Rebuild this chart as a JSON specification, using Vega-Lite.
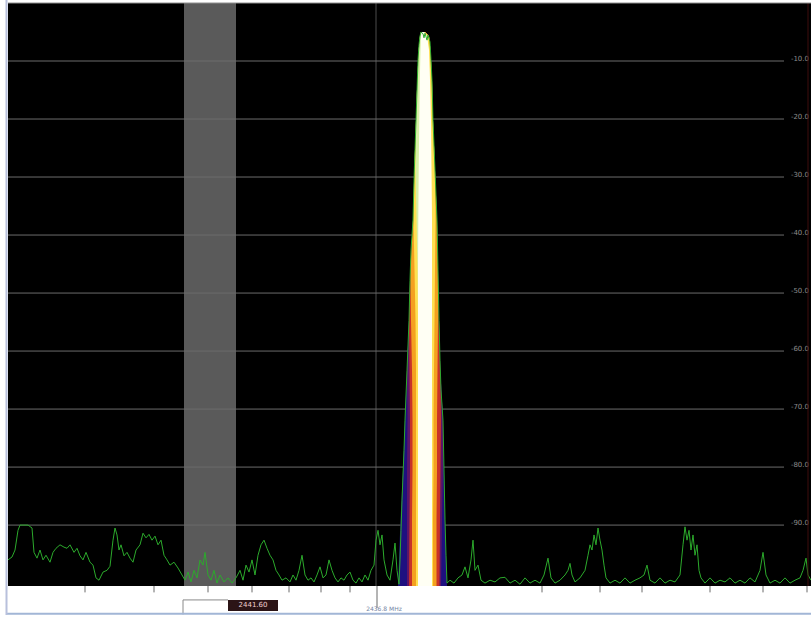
{
  "$schema": "https://vega.github.io/schema/vega-lite/v6.json",
  "width": 803,
  "height": 583,
  "autosize": {"type": "none"},
  "padding": {"left": 8, "top": 3, "right": 0, "bottom": 31},
  "background": "#ffffff",
  "config": {"view": {"fill": "#000000", "stroke": null}},
  "datasets": {
    "span": [{"f0": 2417.6, "f1": 2422.8, "top": 0, "bottom": -100.5}],
    "grid": [{"db": -10, "label": "-10.0"}, {"db": -20, "label": "-20.0"}, {"db": -30, "label": "-30.0"}, {"db": -40, "label": "-40.0"}, {"db": -50, "label": "-50.0"}, {"db": -60, "label": "-60.0"}, {"db": -70, "label": "-70.0"}, {"db": -80, "label": "-80.0"}, {"db": -90, "label": "-90.0"}],
    "ticks": [{"f": 2407.7}, {"f": 2414.6}, {"f": 2420.0}, {"f": 2424.4}, {"f": 2428.1}, {"f": 2431.3}, {"f": 2434.2}, {"f": 2453.4}, {"f": 2459.2}, {"f": 2463.4}, {"f": 2470.2}, {"f": 2475.5}, {"f": 2479.9}],
    "glow": [
      {"band": "navy", "db": -100.5, "lo": 2439.0, "hi": 2443.9}, {"band": "navy", "db": -89.1, "lo": 2439.25, "hi": 2443.7}, {"band": "navy", "db": -80.5, "lo": 2439.5, "hi": 2443.6}, {"band": "navy", "db": -71.9, "lo": 2439.7, "hi": 2443.5}, {"band": "navy", "db": -63.3, "lo": 2439.9, "hi": 2443.23}, {"band": "navy", "db": -54.7, "lo": 2440.1, "hi": 2443.1}, {"band": "navy", "db": -46.0, "lo": 2440.23, "hi": 2443.0}, {"band": "navy", "db": -37.4, "lo": 2440.5, "hi": 2442.9}, {"band": "navy", "db": -28.8, "lo": 2440.63, "hi": 2442.7}, {"band": "navy", "db": -20.2, "lo": 2440.8, "hi": 2442.5}, {"band": "navy", "db": -13.3, "lo": 2440.93, "hi": 2442.4}, {"band": "navy", "db": -8.1, "lo": 2441.07, "hi": 2442.25}, {"band": "navy", "db": -5.7, "lo": 2441.2, "hi": 2442.1}, {"band": "navy", "db": -5.0, "lo": 2441.3, "hi": 2441.7},
      {"band": "purple", "db": -100.5, "lo": 2439.9, "hi": 2443.3}, {"band": "purple", "db": -89.1, "lo": 2439.9, "hi": 2443.4}, {"band": "purple", "db": -80.5, "lo": 2439.9, "hi": 2443.5}, {"band": "purple", "db": -71.9, "lo": 2439.95, "hi": 2443.5}, {"band": "purple", "db": -63.3, "lo": 2439.9, "hi": 2443.23}, {"band": "purple", "db": -54.7, "lo": 2440.1, "hi": 2443.1}, {"band": "purple", "db": -46.0, "lo": 2440.23, "hi": 2443.0}, {"band": "purple", "db": -37.4, "lo": 2440.5, "hi": 2442.9}, {"band": "purple", "db": -28.8, "lo": 2440.63, "hi": 2442.7}, {"band": "purple", "db": -20.2, "lo": 2440.8, "hi": 2442.5}, {"band": "purple", "db": -13.3, "lo": 2440.93, "hi": 2442.4}, {"band": "purple", "db": -8.1, "lo": 2441.07, "hi": 2442.25}, {"band": "purple", "db": -5.7, "lo": 2441.2, "hi": 2442.1}, {"band": "purple", "db": -5.0, "lo": 2441.3, "hi": 2441.7},
      {"band": "red", "db": -100.5, "lo": 2440.1, "hi": 2443.15}, {"band": "red", "db": -89.1, "lo": 2440.15, "hi": 2443.2}, {"band": "red", "db": -80.5, "lo": 2440.2, "hi": 2443.25}, {"band": "red", "db": -71.9, "lo": 2440.2, "hi": 2443.3}, {"band": "red", "db": -63.3, "lo": 2440.15, "hi": 2443.23}, {"band": "red", "db": -54.7, "lo": 2440.1, "hi": 2443.1}, {"band": "red", "db": -46.0, "lo": 2440.23, "hi": 2443.0}, {"band": "red", "db": -37.4, "lo": 2440.5, "hi": 2442.9}, {"band": "red", "db": -28.8, "lo": 2440.63, "hi": 2442.7}, {"band": "red", "db": -20.2, "lo": 2440.8, "hi": 2442.5}, {"band": "red", "db": -13.3, "lo": 2440.93, "hi": 2442.4}, {"band": "red", "db": -8.1, "lo": 2441.07, "hi": 2442.25}, {"band": "red", "db": -5.7, "lo": 2441.2, "hi": 2442.1}, {"band": "red", "db": -5.0, "lo": 2441.3, "hi": 2441.7},
      {"band": "orange", "db": -100.5, "lo": 2440.4, "hi": 2442.85}, {"band": "orange", "db": -89.1, "lo": 2440.4, "hi": 2442.85}, {"band": "orange", "db": -80.5, "lo": 2440.45, "hi": 2442.9}, {"band": "orange", "db": -71.9, "lo": 2440.45, "hi": 2442.9}, {"band": "orange", "db": -63.3, "lo": 2440.4, "hi": 2442.95}, {"band": "orange", "db": -54.7, "lo": 2440.3, "hi": 2443.0}, {"band": "orange", "db": -46.0, "lo": 2440.23, "hi": 2443.0}, {"band": "orange", "db": -37.4, "lo": 2440.5, "hi": 2442.9}, {"band": "orange", "db": -28.8, "lo": 2440.63, "hi": 2442.7}, {"band": "orange", "db": -20.2, "lo": 2440.8, "hi": 2442.5}, {"band": "orange", "db": -13.3, "lo": 2440.93, "hi": 2442.4}, {"band": "orange", "db": -8.1, "lo": 2441.07, "hi": 2442.25}, {"band": "orange", "db": -5.7, "lo": 2441.2, "hi": 2442.1}, {"band": "orange", "db": -5.0, "lo": 2441.3, "hi": 2441.7},
      {"band": "yellow", "db": -100.5, "lo": 2440.8, "hi": 2442.5}, {"band": "yellow", "db": -89.1, "lo": 2440.8, "hi": 2442.5}, {"band": "yellow", "db": -80.5, "lo": 2440.8, "hi": 2442.55}, {"band": "yellow", "db": -71.9, "lo": 2440.8, "hi": 2442.55}, {"band": "yellow", "db": -63.3, "lo": 2440.8, "hi": 2442.6}, {"band": "yellow", "db": -54.7, "lo": 2440.75, "hi": 2442.65}, {"band": "yellow", "db": -46.0, "lo": 2440.65, "hi": 2442.7}, {"band": "yellow", "db": -37.4, "lo": 2440.55, "hi": 2442.75}, {"band": "yellow", "db": -28.8, "lo": 2440.63, "hi": 2442.7}, {"band": "yellow", "db": -20.2, "lo": 2440.8, "hi": 2442.5}, {"band": "yellow", "db": -13.3, "lo": 2440.93, "hi": 2442.4}, {"band": "yellow", "db": -8.1, "lo": 2441.07, "hi": 2442.25}, {"band": "yellow", "db": -5.7, "lo": 2441.2, "hi": 2442.1}, {"band": "yellow", "db": -5.0, "lo": 2441.3, "hi": 2441.7},
      {"band": "lime", "db": -100.5, "lo": 2441.0, "hi": 2442.3}, {"band": "lime", "db": -89.1, "lo": 2441.0, "hi": 2442.3}, {"band": "lime", "db": -80.5, "lo": 2441.0, "hi": 2442.3}, {"band": "lime", "db": -71.9, "lo": 2441.0, "hi": 2442.3}, {"band": "lime", "db": -63.3, "lo": 2441.0, "hi": 2442.3}, {"band": "lime", "db": -54.7, "lo": 2441.0, "hi": 2442.3}, {"band": "lime", "db": -46.0, "lo": 2440.95, "hi": 2442.3}, {"band": "lime", "db": -37.4, "lo": 2440.85, "hi": 2442.3}, {"band": "lime", "db": -28.8, "lo": 2440.75, "hi": 2442.25}, {"band": "lime", "db": -20.2, "lo": 2440.8, "hi": 2442.2}, {"band": "lime", "db": -13.3, "lo": 2440.93, "hi": 2442.15}, {"band": "lime", "db": -8.1, "lo": 2441.07, "hi": 2442.05}, {"band": "lime", "db": -5.7, "lo": 2441.2, "hi": 2441.9}, {"band": "lime", "db": -5.0, "lo": 2441.3, "hi": 2441.6},
      {"band": "white", "db": -100.5, "lo": 2441.0, "hi": 2442.4}, {"band": "white", "db": -89.1, "lo": 2441.0, "hi": 2442.4}, {"band": "white", "db": -80.5, "lo": 2441.0, "hi": 2442.4}, {"band": "white", "db": -71.9, "lo": 2441.0, "hi": 2442.4}, {"band": "white", "db": -63.3, "lo": 2441.0, "hi": 2442.4}, {"band": "white", "db": -54.7, "lo": 2441.0, "hi": 2442.4}, {"band": "white", "db": -46.0, "lo": 2441.0, "hi": 2442.4}, {"band": "white", "db": -37.4, "lo": 2441.03, "hi": 2442.4}, {"band": "white", "db": -28.8, "lo": 2441.07, "hi": 2442.35}, {"band": "white", "db": -20.2, "lo": 2441.13, "hi": 2442.3}, {"band": "white", "db": -13.3, "lo": 2441.18, "hi": 2442.2}, {"band": "white", "db": -8.1, "lo": 2441.25, "hi": 2442.1}, {"band": "white", "db": -5.7, "lo": 2441.3, "hi": 2441.9}, {"band": "white", "db": -5.0, "lo": 2441.35, "hi": 2441.6}
    ],
    "trace": [
      {"f": 2400.0, "db": -96.0}, {"f": 2400.4, "db": -95.5}, {"f": 2400.7, "db": -94.3}, {"f": 2401.0, "db": -90.9}, {"f": 2401.2, "db": -90.0}, {"f": 2402.0, "db": -90.0}, {"f": 2402.4, "db": -90.5}, {"f": 2402.6, "db": -94.7}, {"f": 2402.9, "db": -95.7}, {"f": 2403.2, "db": -94.3}, {"f": 2403.5, "db": -96.0}, {"f": 2403.8, "db": -95.2}, {"f": 2404.2, "db": -96.4}, {"f": 2404.5, "db": -94.7}, {"f": 2404.8, "db": -94.0}, {"f": 2405.2, "db": -93.4}, {"f": 2405.6, "db": -93.8}, {"f": 2405.9, "db": -94.0}, {"f": 2406.2, "db": -93.4}, {"f": 2406.6, "db": -94.7}, {"f": 2406.9, "db": -94.0}, {"f": 2407.2, "db": -95.3}, {"f": 2407.5, "db": -96.0}, {"f": 2407.8, "db": -94.7}, {"f": 2408.2, "db": -96.4}, {"f": 2408.5, "db": -96.9}, {"f": 2408.8, "db": -99.1}, {"f": 2409.1, "db": -99.5}, {"f": 2409.5, "db": -98.1}, {"f": 2409.9, "db": -97.8}, {"f": 2410.2, "db": -97.1}, {"f": 2410.5, "db": -92.6}, {"f": 2410.7, "db": -90.5}, {"f": 2410.9, "db": -91.7}, {"f": 2411.1, "db": -94.3}, {"f": 2411.3, "db": -93.4}, {"f": 2411.6, "db": -95.3}, {"f": 2411.9, "db": -94.7}, {"f": 2412.2, "db": -95.7}, {"f": 2412.5, "db": -96.4}, {"f": 2412.8, "db": -94.3}, {"f": 2413.2, "db": -93.4}, {"f": 2413.5, "db": -91.4}, {"f": 2413.8, "db": -92.2}, {"f": 2414.1, "db": -91.6}, {"f": 2414.4, "db": -92.6}, {"f": 2414.7, "db": -91.9}, {"f": 2415.0, "db": -93.4}, {"f": 2415.3, "db": -92.6}, {"f": 2415.6, "db": -95.2}, {"f": 2415.9, "db": -96.0}, {"f": 2416.2, "db": -96.9}, {"f": 2416.6, "db": -96.4}, {"f": 2417.0, "db": -97.4}, {"f": 2417.4, "db": -98.6}, {"f": 2417.7, "db": -99.5}, {"f": 2418.0, "db": -98.1}, {"f": 2418.3, "db": -99.8}, {"f": 2418.6, "db": -97.8}, {"f": 2418.9, "db": -99.1}, {"f": 2419.2, "db": -96.0}, {"f": 2419.5, "db": -96.9}, {"f": 2419.7, "db": -94.7}, {"f": 2420.0, "db": -98.6}, {"f": 2420.3, "db": -99.5}, {"f": 2420.6, "db": -97.8}, {"f": 2420.9, "db": -100.0}, {"f": 2421.2, "db": -98.6}, {"f": 2421.6, "db": -99.8}, {"f": 2422.0, "db": -99.1}, {"f": 2422.4, "db": -100.0}, {"f": 2422.8, "db": -99.1}, {"f": 2423.2, "db": -97.8}, {"f": 2423.5, "db": -99.5}, {"f": 2423.8, "db": -96.9}, {"f": 2424.1, "db": -98.1}, {"f": 2424.4, "db": -96.0}, {"f": 2424.7, "db": -98.6}, {"f": 2425.0, "db": -95.2}, {"f": 2425.3, "db": -93.4}, {"f": 2425.6, "db": -92.6}, {"f": 2425.9, "db": -94.0}, {"f": 2426.2, "db": -95.2}, {"f": 2426.5, "db": -96.0}, {"f": 2426.8, "db": -97.8}, {"f": 2427.1, "db": -98.6}, {"f": 2427.4, "db": -99.5}, {"f": 2427.8, "db": -99.1}, {"f": 2428.2, "db": -99.8}, {"f": 2428.5, "db": -98.6}, {"f": 2428.8, "db": -99.5}, {"f": 2429.1, "db": -97.8}, {"f": 2429.4, "db": -95.2}, {"f": 2429.7, "db": -98.6}, {"f": 2430.0, "db": -99.5}, {"f": 2430.3, "db": -99.1}, {"f": 2430.6, "db": -99.8}, {"f": 2430.9, "db": -98.6}, {"f": 2431.2, "db": -97.2}, {"f": 2431.5, "db": -99.1}, {"f": 2431.8, "db": -98.6}, {"f": 2432.1, "db": -96.0}, {"f": 2432.4, "db": -97.8}, {"f": 2432.7, "db": -99.1}, {"f": 2433.0, "db": -99.8}, {"f": 2433.3, "db": -99.1}, {"f": 2433.6, "db": -99.5}, {"f": 2433.9, "db": -98.6}, {"f": 2434.2, "db": -98.1}, {"f": 2434.5, "db": -99.5}, {"f": 2434.8, "db": -100.0}, {"f": 2435.1, "db": -99.1}, {"f": 2435.4, "db": -99.8}, {"f": 2435.7, "db": -98.6}, {"f": 2436.0, "db": -99.5}, {"f": 2436.3, "db": -97.8}, {"f": 2436.6, "db": -96.9}, {"f": 2436.8, "db": -92.6}, {"f": 2437.0, "db": -90.9}, {"f": 2437.2, "db": -93.4}, {"f": 2437.4, "db": -91.7}, {"f": 2437.6, "db": -96.0}, {"f": 2437.9, "db": -98.6}, {"f": 2438.2, "db": -99.5}, {"f": 2438.5, "db": -96.0}, {"f": 2438.7, "db": -93.1}, {"f": 2438.9, "db": -97.8}, {"f": 2439.1, "db": -100.2},
      {"f": 2439.2, "db": -96.0}, {"f": 2439.3, "db": -90.9}, {"f": 2439.4, "db": -85.7}, {"f": 2439.6, "db": -77.1}, {"f": 2439.7, "db": -71.9}, {"f": 2439.9, "db": -63.3}, {"f": 2440.1, "db": -54.7}, {"f": 2440.2, "db": -47.8}, {"f": 2440.3, "db": -42.6}, {"f": 2440.5, "db": -37.4}, {"f": 2440.6, "db": -30.5}, {"f": 2440.7, "db": -25.3}, {"f": 2440.8, "db": -20.2}, {"f": 2440.9, "db": -15.0}, {"f": 2441.0, "db": -9.8}, {"f": 2441.1, "db": -7.2}, {"f": 2441.2, "db": -5.7}, {"f": 2441.3, "db": -5.0}, {"f": 2441.5, "db": -5.3}, {"f": 2441.6, "db": -6.0}, {"f": 2441.7, "db": -5.2}, {"f": 2441.9, "db": -6.4}, {"f": 2442.0, "db": -5.5}, {"f": 2442.2, "db": -6.7}, {"f": 2442.3, "db": -9.8}, {"f": 2442.4, "db": -13.3}, {"f": 2442.5, "db": -20.2}, {"f": 2442.7, "db": -28.8}, {"f": 2442.9, "db": -37.4}, {"f": 2443.0, "db": -46.0}, {"f": 2443.1, "db": -54.7}, {"f": 2443.2, "db": -61.6}, {"f": 2443.3, "db": -66.7}, {"f": 2443.5, "db": -71.9}, {"f": 2443.6, "db": -80.5}, {"f": 2443.7, "db": -89.1}, {"f": 2443.8, "db": -95.2}, {"f": 2443.9, "db": -100.0},
      {"f": 2444.2, "db": -99.5}, {"f": 2444.6, "db": -100.0}, {"f": 2445.0, "db": -99.1}, {"f": 2445.4, "db": -98.6}, {"f": 2445.7, "db": -97.2}, {"f": 2446.0, "db": -99.1}, {"f": 2446.3, "db": -96.0}, {"f": 2446.5, "db": -92.6}, {"f": 2446.7, "db": -97.8}, {"f": 2447.0, "db": -96.9}, {"f": 2447.3, "db": -99.5}, {"f": 2447.7, "db": -100.0}, {"f": 2448.2, "db": -99.5}, {"f": 2448.7, "db": -99.8}, {"f": 2449.2, "db": -99.1}, {"f": 2449.7, "db": -99.0}, {"f": 2450.2, "db": -100.0}, {"f": 2450.7, "db": -99.5}, {"f": 2451.2, "db": -100.2}, {"f": 2451.7, "db": -99.1}, {"f": 2452.2, "db": -100.0}, {"f": 2452.7, "db": -99.5}, {"f": 2453.2, "db": -100.0}, {"f": 2453.6, "db": -98.6}, {"f": 2454.0, "db": -95.7}, {"f": 2454.3, "db": -99.1}, {"f": 2454.7, "db": -100.0}, {"f": 2455.2, "db": -99.5}, {"f": 2455.7, "db": -98.6}, {"f": 2456.0, "db": -97.8}, {"f": 2456.2, "db": -96.6}, {"f": 2456.4, "db": -98.6}, {"f": 2456.7, "db": -99.8}, {"f": 2457.2, "db": -99.1}, {"f": 2457.7, "db": -97.8}, {"f": 2458.0, "db": -95.2}, {"f": 2458.2, "db": -93.4}, {"f": 2458.4, "db": -94.3}, {"f": 2458.6, "db": -91.7}, {"f": 2458.8, "db": -93.4}, {"f": 2459.0, "db": -90.5}, {"f": 2459.2, "db": -92.6}, {"f": 2459.4, "db": -94.3}, {"f": 2459.6, "db": -96.9}, {"f": 2459.8, "db": -99.1}, {"f": 2460.2, "db": -100.0}, {"f": 2460.7, "db": -99.5}, {"f": 2461.2, "db": -100.0}, {"f": 2461.7, "db": -99.1}, {"f": 2462.2, "db": -100.0}, {"f": 2462.7, "db": -99.5}, {"f": 2463.2, "db": -99.1}, {"f": 2463.6, "db": -98.6}, {"f": 2463.9, "db": -96.9}, {"f": 2464.2, "db": -99.5}, {"f": 2464.7, "db": -100.0}, {"f": 2465.2, "db": -99.1}, {"f": 2465.7, "db": -100.0}, {"f": 2466.2, "db": -99.5}, {"f": 2466.7, "db": -99.8}, {"f": 2467.2, "db": -98.6}, {"f": 2467.5, "db": -93.4}, {"f": 2467.7, "db": -90.3}, {"f": 2467.9, "db": -92.6}, {"f": 2468.1, "db": -90.9}, {"f": 2468.3, "db": -94.3}, {"f": 2468.5, "db": -91.7}, {"f": 2468.7, "db": -95.2}, {"f": 2468.9, "db": -93.4}, {"f": 2469.1, "db": -97.8}, {"f": 2469.3, "db": -99.1}, {"f": 2469.7, "db": -100.0}, {"f": 2470.2, "db": -99.1}, {"f": 2470.7, "db": -100.0}, {"f": 2471.2, "db": -99.5}, {"f": 2471.7, "db": -99.8}, {"f": 2472.2, "db": -99.1}, {"f": 2472.7, "db": -100.0}, {"f": 2473.2, "db": -99.5}, {"f": 2473.7, "db": -100.0}, {"f": 2474.2, "db": -99.1}, {"f": 2474.7, "db": -99.8}, {"f": 2475.2, "db": -97.8}, {"f": 2475.5, "db": -94.7}, {"f": 2475.8, "db": -98.6}, {"f": 2476.2, "db": -100.0}, {"f": 2476.7, "db": -99.5}, {"f": 2477.2, "db": -100.0}, {"f": 2477.7, "db": -99.1}, {"f": 2478.2, "db": -100.0}, {"f": 2478.7, "db": -99.5}, {"f": 2479.2, "db": -99.1}, {"f": 2479.5, "db": -97.8}, {"f": 2479.8, "db": -95.7}, {"f": 2480.0, "db": -98.6}, {"f": 2480.3, "db": -99.5}
    ]
  },
  "layer": [
    {
      "data": {"name": "span"},
      "mark": {"type": "rect", "color": "#5a5a5a"},
      "encoding": {
        "x": {"field": "f0", "type": "quantitative", "scale": {"domain": [2400, 2480.3], "nice": false, "zero": false}, "axis": null},
        "x2": {"field": "f1"},
        "y": {"field": "top", "type": "quantitative", "scale": {"domain": [-100.5, 0], "nice": false, "zero": false}, "axis": null},
        "y2": {"field": "bottom"}
      }
    },
    {
      "data": {"name": "span"},
      "mark": {"type": "rule", "color": "#4c4c4c", "strokeWidth": 1},
      "encoding": {"x": {"datum": 2436.8, "type": "quantitative"}, "y": {"field": "top", "type": "quantitative"}, "y2": {"field": "bottom"}}
    },
    {
      "data": {"name": "grid"},
      "mark": {"type": "rule", "color": "#6c6c6c", "strokeWidth": 1},
      "encoding": {"x": {"datum": 2400, "type": "quantitative"}, "x2": {"datum": 2477.6}, "y": {"field": "db", "type": "quantitative"}}
    },
    {
      "data": {"name": "glow"},
      "transform": [{"filter": "datum.band === 'navy'"}],
      "mark": {"type": "area", "orient": "horizontal", "color": "#1e1080"},
      "encoding": {"y": {"field": "db", "type": "quantitative"}, "x": {"field": "lo", "type": "quantitative"}, "x2": {"field": "hi"}}
    },
    {
      "data": {"name": "glow"},
      "transform": [{"filter": "datum.band === 'purple'"}],
      "mark": {"type": "area", "orient": "horizontal", "color": "#5c1468"},
      "encoding": {"y": {"field": "db", "type": "quantitative"}, "x": {"field": "lo", "type": "quantitative"}, "x2": {"field": "hi"}}
    },
    {
      "data": {"name": "glow"},
      "transform": [{"filter": "datum.band === 'red'"}],
      "mark": {"type": "area", "orient": "horizontal", "color": "#c83228"},
      "encoding": {"y": {"field": "db", "type": "quantitative"}, "x": {"field": "lo", "type": "quantitative"}, "x2": {"field": "hi"}}
    },
    {
      "data": {"name": "glow"},
      "transform": [{"filter": "datum.band === 'orange'"}],
      "mark": {"type": "area", "orient": "horizontal", "color": "#f4a020"},
      "encoding": {"y": {"field": "db", "type": "quantitative"}, "x": {"field": "lo", "type": "quantitative"}, "x2": {"field": "hi"}}
    },
    {
      "data": {"name": "glow"},
      "transform": [{"filter": "datum.band === 'yellow'"}],
      "mark": {"type": "area", "orient": "horizontal", "color": "#ffe050"},
      "encoding": {"y": {"field": "db", "type": "quantitative"}, "x": {"field": "lo", "type": "quantitative"}, "x2": {"field": "hi"}}
    },
    {
      "data": {"name": "glow"},
      "transform": [{"filter": "datum.band === 'lime'"}],
      "mark": {"type": "area", "orient": "horizontal", "color": "#d8f0a8"},
      "encoding": {"y": {"field": "db", "type": "quantitative"}, "x": {"field": "lo", "type": "quantitative"}, "x2": {"field": "hi"}}
    },
    {
      "data": {"name": "glow"},
      "transform": [{"filter": "datum.band === 'white'"}],
      "mark": {"type": "area", "orient": "horizontal", "color": "#fffff4"},
      "encoding": {"y": {"field": "db", "type": "quantitative"}, "x": {"field": "lo", "type": "quantitative"}, "x2": {"field": "hi"}}
    },
    {
      "data": {"name": "trace"},
      "mark": {"type": "line", "color": "#2caa2c", "strokeWidth": 1, "interpolate": "linear"},
      "encoding": {"x": {"field": "f", "type": "quantitative"}, "y": {"field": "db", "type": "quantitative"}}
    },
    {
      "data": {"name": "grid"},
      "mark": {"type": "text", "align": "right", "baseline": "bottom", "dy": 1, "fontSize": 7, "font": "DejaVu Sans", "color": "#8c8c8c"},
      "encoding": {"x": {"datum": 2480.1, "type": "quantitative"}, "y": {"field": "db", "type": "quantitative"}, "text": {"field": "label"}}
    },
    {
      "data": {"name": "span"},
      "mark": {"type": "rule", "color": "#3e0c0c", "strokeWidth": 1},
      "encoding": {"x": {"datum": 2480.0, "type": "quantitative"}, "y": {"field": "top", "type": "quantitative"}, "y2": {"field": "bottom"}}
    },
    {
      "data": {"name": "span"},
      "mark": {"type": "rule", "color": "#8e8e8e", "strokeWidth": 1},
      "encoding": {"x": {"datum": 2400, "type": "quantitative"}, "x2": {"datum": 2480.3}, "y": {"field": "top", "type": "quantitative"}}
    },
    {
      "data": {"name": "ticks"},
      "mark": {"type": "rule", "color": "#6a6a6a", "strokeWidth": 1},
      "encoding": {"x": {"field": "f", "type": "quantitative"}, "y": {"datum": -100.5, "type": "quantitative"}, "y2": {"datum": -101.6}}
    },
    {
      "data": {"name": "span"},
      "mark": {"type": "rule", "color": "#6a6a6a", "strokeWidth": 1},
      "encoding": {"x": {"datum": 2436.9, "type": "quantitative"}, "y": {"datum": -100.5, "type": "quantitative"}, "y2": {"datum": -104.3}}
    },
    {
      "data": {"name": "span"},
      "mark": {"type": "rule", "color": "#8a8a8a", "strokeWidth": 1},
      "encoding": {"x": {"datum": 2417.5, "type": "quantitative"}, "y": {"datum": -102.9, "type": "quantitative"}, "y2": {"datum": -105.4}}
    },
    {
      "data": {"name": "span"},
      "mark": {"type": "rule", "color": "#8a8a8a", "strokeWidth": 1},
      "encoding": {"x": {"datum": 2417.5, "type": "quantitative"}, "x2": {"datum": 2422.0}, "y": {"datum": -102.9, "type": "quantitative"}}
    },
    {
      "data": {"name": "span"},
      "mark": {"type": "rect", "color": "#2b1416"},
      "encoding": {"x": {"datum": 2422.0, "type": "quantitative"}, "x2": {"datum": 2427.0}, "y": {"datum": -102.9, "type": "quantitative"}, "y2": {"datum": -104.8}}
    },
    {
      "data": {"name": "span"},
      "mark": {"type": "text", "align": "center", "baseline": "middle", "fontSize": 7, "font": "DejaVu Sans", "color": "#f0d2d2", "text": "2441.60"},
      "encoding": {"x": {"datum": 2424.5, "type": "quantitative"}, "y": {"datum": -103.85, "type": "quantitative"}}
    },
    {
      "data": {"name": "span"},
      "mark": {"type": "text", "align": "center", "baseline": "middle", "fontSize": 6, "font": "DejaVu Sans", "color": "#7484a4", "text": "2436.8 MHz"},
      "encoding": {"x": {"datum": 2437.6, "type": "quantitative"}, "y": {"datum": -104.5, "type": "quantitative"}}
    },
    {
      "data": {"name": "span"},
      "mark": {"type": "rule", "color": "#a2b6d6", "strokeWidth": 2},
      "encoding": {"x": {"datum": 2399.8, "type": "quantitative"}, "x2": {"datum": 2480.3}, "y": {"datum": -105.3, "type": "quantitative"}}
    },
    {
      "data": {"name": "span"},
      "mark": {"type": "rule", "color": "#b8c0dc", "strokeWidth": 2},
      "encoding": {"x": {"datum": 2399.85, "type": "quantitative"}, "y": {"datum": 0.5, "type": "quantitative"}, "y2": {"datum": -105.5}}
    }
  ]
}
